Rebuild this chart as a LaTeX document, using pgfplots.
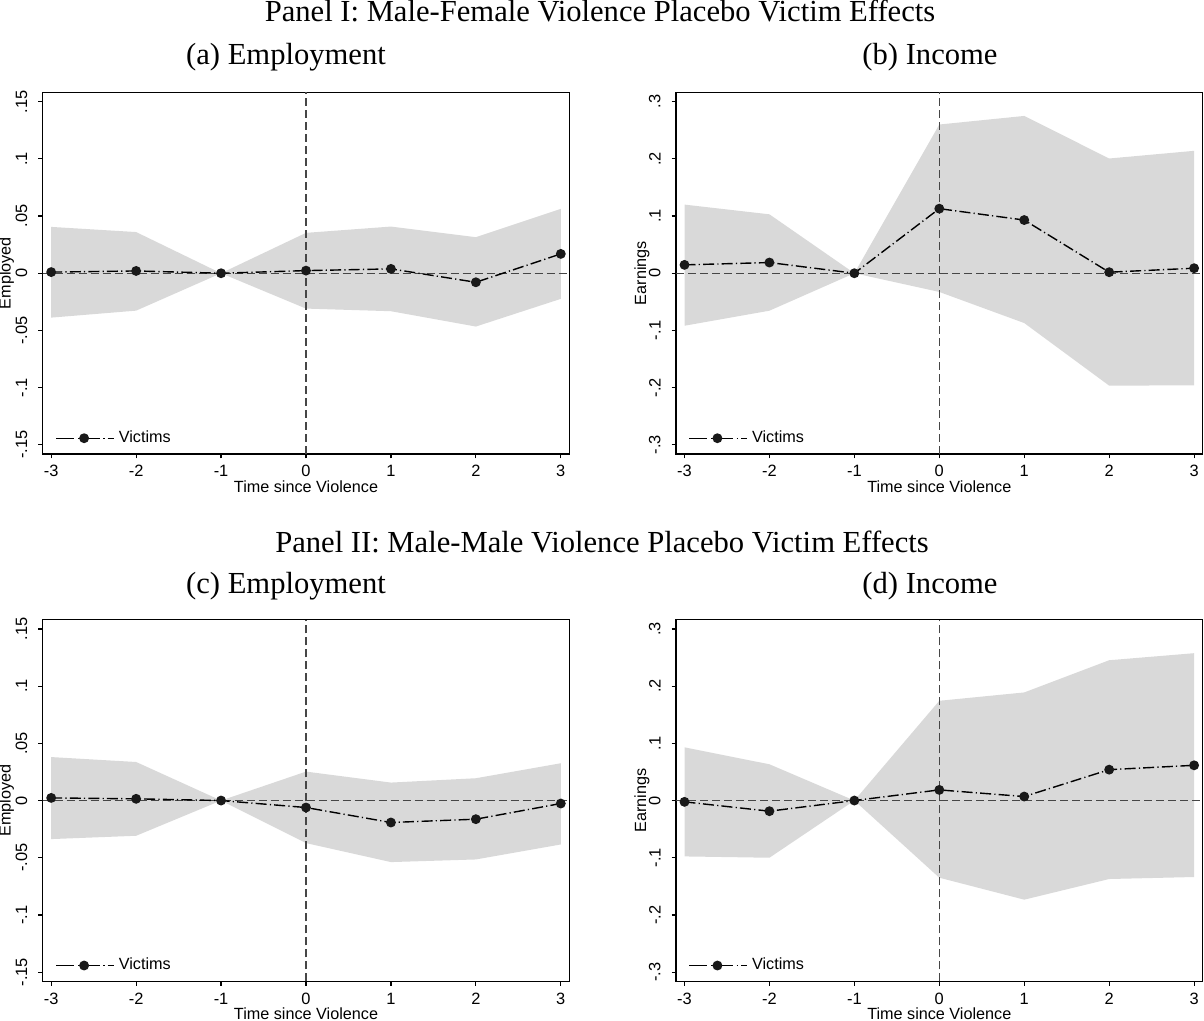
\documentclass[border=0pt]{standalone}
\usepackage{fontspec}
\setmainfont{Liberation Serif}
\newfontfamily\sansf{Liberation Sans}
\usepackage{pgfplots}
\pgfplotsset{compat=1.18}
\definecolor{band}{RGB}{217,217,217}
\definecolor{refl}{RGB}{70,70,70}
\newcommand{\lblfont}{\sansf\fontsize{8.1}{9.5}\selectfont}
\newcommand{\tckfont}{\sansf\fontsize{8.2}{9.5}\selectfont}
\newcommand{\ttlfont}{\fontsize{15.3}{18}\selectfont}
\pgfplotsset{
 stata/.style={
  scale only axis, width=263.3pt, height=180.75pt,
  xmin=-3.1, xmax=3.1,
  xtick={-3,-2,-1,0,1,2,3}, xticklabels={-3,-2,-1,0,1,2,3},
  xtick pos=left, ytick pos=left,
  tick align=outside, major tick length=2.2pt,
  axis line style={black, line width=0.6pt},
  every tick/.style={black, line width=0.6pt},
  ticklabel style={font=\tckfont},
  yticklabel style={rotate=90, anchor=south, font=\tckfont},
  yticklabel shift=2pt,
  xlabel={Time since Violence},
  xlabel style={font=\lblfont, at={(axis description cs:0.5,-0.091)}, anchor=center},
  ylabel style={font=\lblfont, anchor=center},
  legend style={at={(axis description cs:0.012,0.0)}, anchor=south west, draw=none, fill=none, font=\lblfont},
  legend image code/.code={%
   \draw[##1, mark=none, dash pattern=on 9pt off 2pt on 11pt off 1.6pt on 0.6pt off 1.6pt on 5pt] (0pt,0pt) -- (29pt,0pt);
   \path[##1, draw=none] plot[mark repeat=2,mark phase=2] coordinates {(0pt,0pt)(14pt,0pt)(29pt,0pt)};},
 },
 emp/.style={ymin=-0.158, ymax=0.158, ytick={-0.15,-0.1,-0.05,0,0.05,0.1,0.15},
  yticklabels={-.15,-.1,-.05,0,.05,.1,.15}, ylabel={Employed},
  ylabel style={at={(axis description cs:-0.069,0.5)}}},
 inc/.style={ymin=-0.316, ymax=0.316, ytick={-0.3,-0.2,-0.1,0,0.1,0.2,0.3},
  yticklabels={-.3,-.2,-.1,0,.1,.2,.3}, ylabel={Earnings},
  ylabel style={at={(axis description cs:-0.0645,0.5)}}},
 victim/.style={black, line width=0.7pt, dash pattern=on 5.5pt off 1.6pt on 0.6pt off 1.6pt,
  mark=*, mark size=2.1pt, mark options={solid, fill=black!90, draw=black!90}},
 bandst/.style={fill=band, draw=none, forget plot},
 refst/.style={refl, line width=0.7pt, dash pattern=on 4pt off 2pt, forget plot},
}
\begin{document}
\begin{tikzpicture}
\path[use as bounding box] (0,0) rectangle (602pt,510.5pt);
\node[anchor=base, font=\ttlfont] at (300pt,499.5pt) {Panel I: Male-Female Violence Placebo Victim Effects};
\node[anchor=base, font=\ttlfont] at (143pt,478pt) {(a) Employment};
\node[anchor=base, font=\ttlfont] at (465pt,478pt) {(b) Income};
\node[anchor=base, font=\ttlfont] at (301pt,234pt) {Panel II: Male-Male Violence Placebo Victim Effects};
\node[anchor=base, font=\ttlfont] at (143pt,213.5pt) {(c) Employment};
\node[anchor=base, font=\ttlfont] at (465pt,213.5pt) {(d) Income};

\begin{axis}[stata, emp, at={(21.35pt,283.5pt)}, anchor=south west]
\addplot[bandst] coordinates {(-3,0.0405) (-2,0.036) (-1,0) (0,0.0353) (1,0.0408) (2,0.0315) (3,0.0563) (3,-0.0224) (2,-0.0466) (1,-0.0332) (0,-0.0309) (-1,0) (-2,-0.0327) (-3,-0.0388)} -- cycle;
\addplot[refst] coordinates {(-3.1,0) (3.1,0)};
\addplot[refst] coordinates {(0,-0.158) (0,0.158)};
\addplot[victim] coordinates {(-3,0.001) (-2,0.002) (-1,0) (0,0.0023) (1,0.0038) (2,-0.0079) (3,0.0169)};
\legend{Victims}
\end{axis}

\begin{axis}[stata, inc, at={(338pt,283.5pt)}, anchor=south west]
\addplot[bandst] coordinates {(-3,0.120) (-2,0.103) (-1,0) (0,0.260) (1,0.275) (2,0.2006) (3,0.214) (3,-0.196) (2,-0.1965) (1,-0.0871) (0,-0.0327) (-1,0) (-2,-0.0655) (-3,-0.0918)} -- cycle;
\addplot[refst] coordinates {(-3.1,0) (3.1,0)};
\addplot[refst] coordinates {(0,-0.316) (0,0.316)};
\addplot[victim] coordinates {(-3,0.0146) (-2,0.0187) (-1,0) (0,0.1129) (1,0.093) (2,0.0018) (3,0.0088)};
\legend{Victims}
\end{axis}

\begin{axis}[stata, emp, at={(21.35pt,19.85pt)}, anchor=south west]
\addplot[bandst] coordinates {(-3,0.038) (-2,0.0337) (-1,0) (0,0.0253) (1,0.0157) (2,0.0195) (3,0.0326) (3,-0.0384) (2,-0.0515) (1,-0.0538) (0,-0.0372) (-1,0) (-2,-0.0308) (-3,-0.0337)} -- cycle;
\addplot[refst] coordinates {(-3.1,0) (3.1,0)};
\addplot[refst] coordinates {(0,-0.158) (0,0.158)};
\addplot[victim] coordinates {(-3,0.0023) (-2,0.0015) (-1,0) (0,-0.0061) (1,-0.0192) (2,-0.0163) (3,-0.0026)};
\legend{Victims}
\end{axis}

\begin{axis}[stata, inc, at={(338pt,19.85pt)}, anchor=south west]
\addplot[bandst] coordinates {(-3,0.093) (-2,0.0634) (-1,0) (0,0.1744) (1,0.189) (2,0.2453) (3,0.2576) (3,-0.1337) (2,-0.1372) (1,-0.1733) (0,-0.1349) (-1,0) (-2,-0.100) (-3,-0.0977)} -- cycle;
\addplot[refst] coordinates {(-3.1,0) (3.1,0)};
\addplot[refst] coordinates {(0,-0.316) (0,0.316)};
\addplot[victim] coordinates {(-3,-0.0023) (-2,-0.0186) (-1,0) (0,0.0186) (1,0.007) (2,0.054) (3,0.0616)};
\legend{Victims}
\end{axis}
\end{tikzpicture}
\end{document}
